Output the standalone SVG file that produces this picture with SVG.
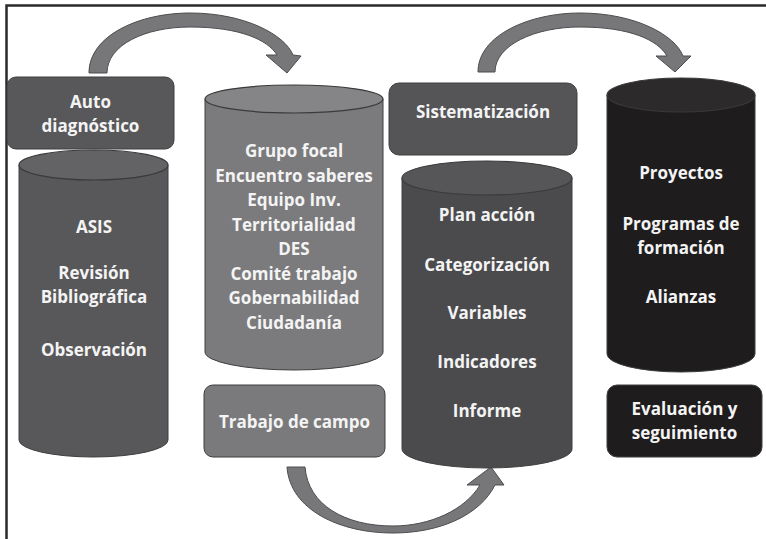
<svg xmlns="http://www.w3.org/2000/svg" width="766" height="539" viewBox="0 0 766 539">
<style>
  text { font-family: "Open Sans", "DejaVu Sans", sans-serif; font-weight: bold; font-size: 17px; fill: #f4f4f4; text-anchor: middle; }
  .box { stroke: #3f3f40; stroke-width: 1; }
  .body { stroke: #3f3f40; stroke-width: 1; }
  .top { stroke: #3a3a3b; stroke-width: 1.2; }
  .arrow { fill: #77777a; stroke: #4d4d4f; stroke-width: 1; stroke-linejoin: round; }
</style>
<rect width="766" height="539" fill="#ffffff"/>
<path d="M6.5 539 V5.5 H766" fill="none" stroke="#2a2a2a" stroke-width="2.5"/>

<g id="connectors">
  <path class="arrow" d="M89 73 C89 35 140 13 190 13 C245 13 285 35 293 55 L301 56 L287 73 L266 55 L277 55 C268 40 240 27 190 27 C145 27 107 45 107 73 Z"/>
  <path class="arrow" d="M478 72 C478 35 530 13 580 13 C635 13 675 35 683 56 L691 56 L675 72 L656 56 L667 56 C658 40 630 27 580 27 C535 27 495 45 495 72 Z"/>
  <path class="arrow" d="M287 467 C290 510 340 533 393 533 C440 533 480 515 495 485 L504 485 L491 467 L467 485 L480 485 C465 510 430 526 393 526 C345 526 308 505 305 467 Z"/>
</g>

<g id="autodiagnostico">
  <rect class="box" x="7" y="77" width="167" height="72" rx="9" fill="#58585a"/>
  <text x="90.5" y="108">Auto</text>
  <text x="90.5" y="132">diagnóstico</text>
</g>

<g id="cilindro-asis">
  <path class="body" d="M19 165 V440 A74.5 17 0 0 0 168 440 V165 Z" fill="#58585a"/>
  <ellipse class="top" cx="93.5" cy="165" rx="74.5" ry="15" fill="#636365"/>
  <text x="94" y="233">ASIS</text>
  <text x="94" y="279">Revisión</text>
  <text x="94" y="303">Bibliográfica</text>
  <text x="94" y="356">Observación</text>
</g>

<g id="cilindro-grupo">
  <path class="body" d="M205 99 V352 A89 18 0 0 0 383 352 V99 Z" fill="#7b7b7d"/>
  <ellipse class="top" cx="294" cy="99" rx="89" ry="14" fill="#858587"/>
  <text x="294" y="157">Grupo focal</text>
  <text x="294" y="181.5">Encuentro saberes</text>
  <text x="294" y="206">Equipo Inv.</text>
  <text x="294" y="230.5">Territorialidad</text>
  <text x="294" y="255">DES</text>
  <text x="294" y="279.5">Comité trabajo</text>
  <text x="294" y="304">Gobernabilidad</text>
  <text x="294" y="328.5">Ciudadanía</text>
</g>

<g id="trabajo-campo">
  <rect class="box" x="204" y="385" width="181" height="72" rx="9" fill="#7a7a7c" stroke="#555557"/>
  <text x="294.5" y="428">Trabajo de campo</text>
</g>

<g id="sistematizacion">
  <rect class="box" x="389" y="83" width="188" height="72" rx="10" fill="#555557"/>
  <text x="483" y="118">Sistematización</text>
</g>

<g id="cilindro-plan">
  <path class="body" d="M402 178 V449 A85 19 0 0 0 572 449 V178 Z" fill="#4b4b4d"/>
  <ellipse class="top" cx="487" cy="178" rx="85" ry="17" fill="#565658"/>
  <text x="487" y="221">Plan acción</text>
  <text x="487" y="271">Categorización</text>
  <text x="487" y="319">Variables</text>
  <text x="487" y="368">Indicadores</text>
  <text x="487" y="417">Informe</text>
</g>

<g id="cilindro-proyectos">
  <path class="body" d="M607 95 V354 A74 18 0 0 0 755 354 V95 Z" fill="#1e1c1d" stroke="#3a3a3a"/>
  <ellipse class="top" cx="681" cy="95" rx="74" ry="17" fill="#2c2a2b" stroke="#555"/>
  <text x="681" y="179">Proyectos</text>
  <text x="681" y="230">Programas de</text>
  <text x="681" y="254">formación</text>
  <text x="681" y="303">Alianzas</text>
</g>

<g id="evaluacion">
  <rect class="box" x="607" y="385" width="155" height="72" rx="10" fill="#1e1c1d" stroke="#505050"/>
  <text x="684.5" y="415">Evaluación y</text>
  <text x="684.5" y="439">seguimiento</text>
</g>
</svg>
